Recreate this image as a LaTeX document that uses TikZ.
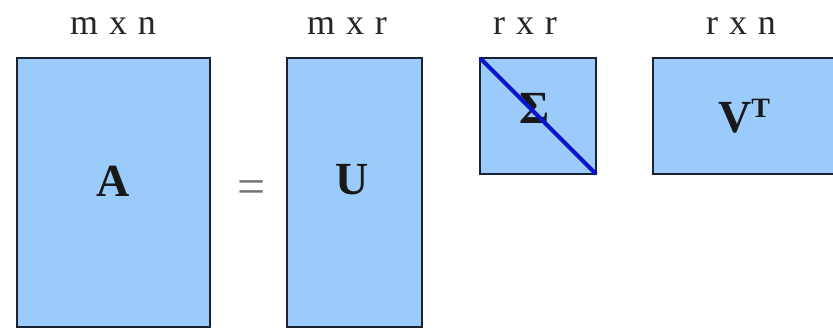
\documentclass[tikz,border=0pt]{standalone}
\usepackage{fontspec}
\setmainfont{Liberation Serif}
\definecolor{matfill}{HTML}{9BCBFB}
\definecolor{matedge}{HTML}{1A2233}
\definecolor{diagblue}{HTML}{0A14C8}
\definecolor{labgray}{HTML}{262626}
\newcommand{\dimsp}{\hspace{0.3em}}
\begin{document}
\begin{tikzpicture}[x=1pt,y=-1pt,
  mat/.style={draw=matedge,fill=matfill,line width=2pt},
  dimlabel/.style={font=\fontsize{36}{36}\selectfont,text=labgray,inner sep=0pt},
  matname/.style={font=\fontsize{46}{46}\selectfont\bfseries,text=black!90,inner sep=0pt}]
\useasboundingbox (0,0) rectangle (833,328);
% matrices
\draw[mat] (17,58) rectangle (210,327);
\draw[mat] (287,58) rectangle (422,327);
\draw[mat] (480,58) rectangle (596,174);
\draw[mat] (653,58) rectangle (840,174);
\coordinate (sa) at (480,58);
\coordinate (sb) at (596,174);
% names
\node[matname] (A) at (113,181) {A};
\node[matname] (U) at (352,180) {U};
\node[matname] (S) at (535,108) {Σ};
\node[matname] (V) at (744,116) {V\raisebox{0.33em}{\fontsize{28}{28}\selectfont T}};
\draw[diagblue,line width=4pt] (sa) -- (sb);
% equals
\node[font=\fontsize{50}{50}\selectfont,text=black!55,inner sep=0pt] (eq) at (252,192) {=};
% dims
\node[dimlabel] (d1) at (113,26) {m\dimsp x\dimsp n};
\node[dimlabel] (d2) at (347,26) {m\dimsp x\dimsp r};
\node[dimlabel] (d3) at (525,26) {r\dimsp x\dimsp r};
\node[dimlabel] (d4) at (741,26) {r\dimsp x\dimsp n};
\end{tikzpicture}
\end{document}
